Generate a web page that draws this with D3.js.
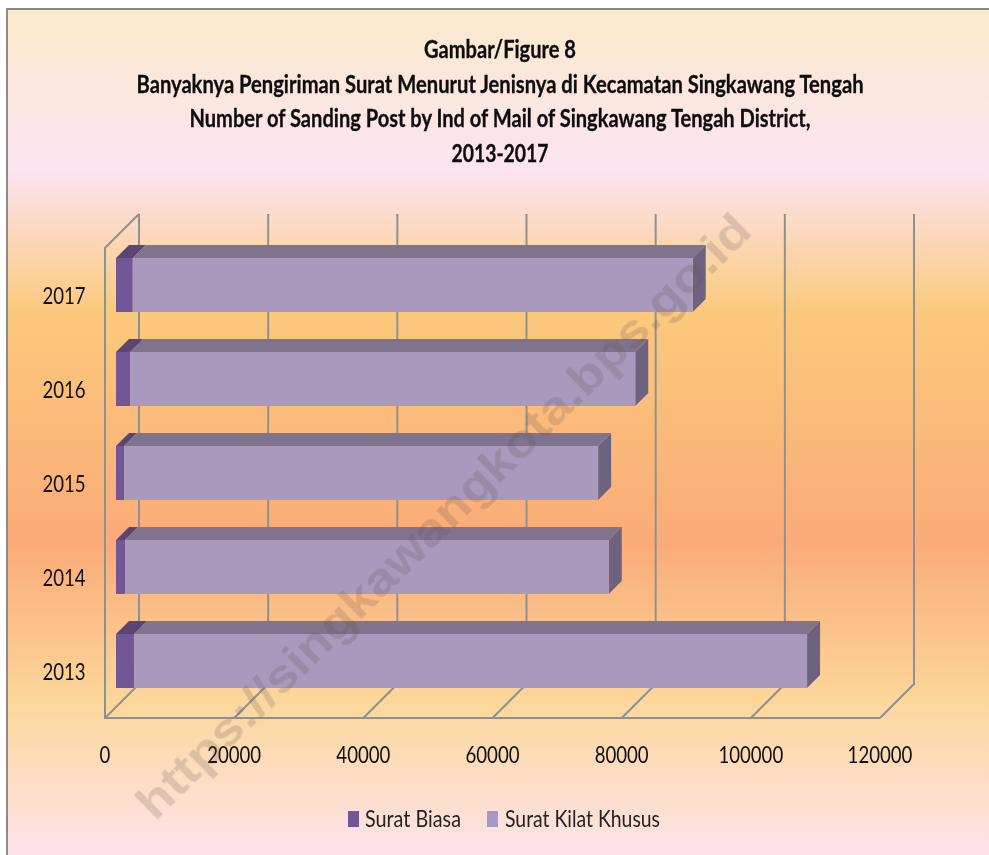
<!DOCTYPE html>
<html><head><meta charset="utf-8">
<script src="https://cdn.jsdelivr.net/npm/d3@7/dist/d3.min.js"></script>
<style>html,body{margin:0;padding:0;background:#fff}svg{display:block}</style>
</head><body><div id="c"></div>
<script>
const years = ["2017","2016","2015","2014","2013"];
const suratBiasa = [2600,2200,1250,1400,2800];
const suratKilat = [86700,78200,73400,74900,104200];
const xTicks = [0,20000,40000,60000,80000,100000,120000];
const titleLines = ["Gambar/Figure 8","Banyaknya Pengiriman Surat Menurut Jenisnya di Kecamatan Singkawang Tengah","Number of Sanding Post by Ind of Mail of Singkawang Tengah District,","2013-2017"];
const titleWidths = [152,727,621,97];
const legendNames = ["Surat Biasa","Surat Kilat Khusus"];
const watermark = "https://singkawangkota.bps.go.id";

const W=989,H=855;
const svg=d3.select("#c").append("svg").attr("width",W).attr("height",H);
const defs=svg.append("defs");
const g=defs.append("linearGradient").attr("id","bg").attr("x1",0).attr("x2",0).attr("y1",0).attr("y2",1);
[[0,"#fbeacc"],[.19,"#fce4f0"],[.36,"#fbc97c"],[.63,"#fbab78"],[.82,"#fcd79b"],[1,"#fde3ea"]].forEach(s=>g.append("stop").attr("offset",s[0]).attr("stop-color",s[1]));
defs.append("filter").attr("id","soft").append("feGaussianBlur").attr("stdDeviation",.45);
svg.append("rect").attr("x",7).attr("y",9).attr("width",W-7).attr("height",H-9).attr("fill","url(#bg)");
svg.append("path").attr("d",d3.line()([[7,H],[7,9],[W,9]])).attr("fill","none").attr("stroke","#8a8a8a").attr("stroke-width",2);

const x=d3.scaleLinear().domain([0,120000]).range([105,880]);
const y=d3.scaleBand().domain(years).range([248,718]).paddingInner(40/94).paddingOuter(20/94);
const DX=34,DY=-34, barOff=11, barOffY=10, barD=13;
const root=svg.append("g").attr("filter","url(#soft)");
const grid="#8d9291";
const gl=root.append("g").attr("fill","none").attr("stroke",grid).attr("stroke-width",2);
xTicks.forEach(t=>{
  gl.append("path").attr("d",d3.line()([[x(t),718],[x(t)+DX,718+DY],[x(t)+DX,248+DY]]));
});
gl.append("path").attr("d",d3.line()([[x(0)+DX,248+DY],[x(0),248],[x(0),718],[x(120000),718]]));

years.forEach((yr,i)=>{
  const y0=y(yr)-barOffY, h=y.bandwidth();
  const a=x(0)+barOff, b=x(suratBiasa[i])+barOff, c=x(suratBiasa[i]+suratKilat[i])+barOff;
  const bar=root.append("g");
  const poly=(pts,f)=>bar.append("polygon").attr("points",pts.join(" ")).attr("fill",f);
  poly([[a,y0],[a+barD,y0-barD],[b+barD,y0-barD],[b,y0]],"#5b4476");
  poly([[b,y0],[b+barD,y0-barD],[c+barD,y0-barD],[c,y0]],"#7f738e");
  poly([[c,y0],[c+barD,y0-barD],[c+barD,y0-barD+h],[c,y0+h]],"#6d6480");
  bar.append("rect").attr("x",a).attr("y",y0).attr("width",b-a).attr("height",h).attr("fill","#735796");
  bar.append("rect").attr("x",b).attr("y",y0).attr("width",c-b).attr("height",h).attr("fill","#a899bd");
  root.append("text").text(yr).attr("x",64).attr("y",y0+h/2+18.5).attr("text-anchor","middle").attr("class","lbl");
});
xTicks.forEach(t=>root.append("text").text(t).attr("x",x(t)).attr("y",763).attr("text-anchor","middle").attr("class","lbl"));
titleLines.forEach((t,i)=>root.append("text").text(t)
  .attr("transform",`translate(500,${[58,93,127,162][i]}) scale(1,1.2)`)
  .attr("text-anchor","middle").attr("font-family","Lato").attr("font-weight",700).attr("font-size",20.5)
  .attr("textLength",titleWidths[i]).attr("lengthAdjust","spacingAndGlyphs").attr("fill","#0c0c0c")
  .attr("stroke","#0c0c0c").attr("stroke-width",.25));
root.selectAll(".lbl").attr("font-family","Lato").attr("font-size",24).attr("fill","#111")
  .attr("textLength",function(){return this.textContent.length*10.8}).attr("lengthAdjust","spacingAndGlyphs");
// legend
[[348,365,96],[487,505,155]].forEach((p,i)=>{
  root.append("rect").attr("x",p[0]).attr("y",811).attr("width",11).attr("height",16).attr("fill",i?"#a899c9":"#735796");
  root.append("text").text(legendNames[i]).attr("x",p[1]).attr("y",827).attr("font-family","Lato").attr("font-size",23).attr("fill","#222")
   .attr("textLength",p[2]).attr("lengthAdjust","spacingAndGlyphs");
});
svg.append("text").text(watermark).attr("transform","translate(155,822) rotate(-44.5)")
  .attr("font-family","Liberation Sans").attr("font-weight",700).attr("font-size",47).attr("fill","#5e5050").attr("fill-opacity",.2)
  .attr("textLength",840).attr("lengthAdjust","spacingAndGlyphs");
</script></body></html>
